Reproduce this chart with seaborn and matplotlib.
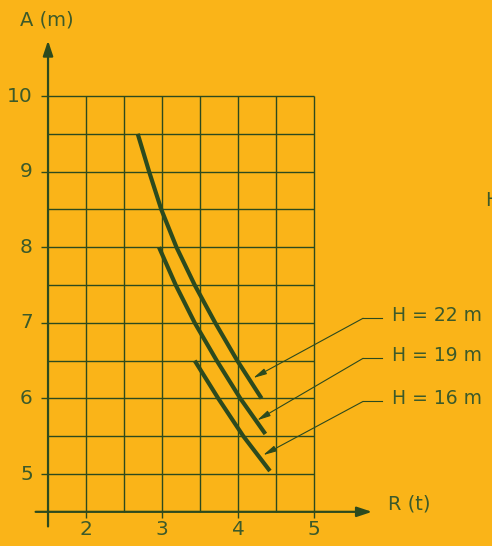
import numpy as np
import pandas as pd
import seaborn as sns
import matplotlib.pyplot as plt

# curves: R (t) vs A (m)
h22_r = [2.68, 2.83, 2.99, 3.19, 3.43, 3.70, 3.99, 4.31]
h22_a = [9.5, 9.0, 8.5, 8.0, 7.5, 7.0, 6.5, 6.0]
h19_r = [2.96, 3.18, 3.43, 3.72, 4.03, 4.36]
h19_a = [8.0, 7.5, 7.0, 6.5, 6.0, 5.53]
h16_r = [3.43, 3.74, 4.07, 4.42]
h16_a = [6.5, 6.0, 5.5, 5.04]

labels = ['H = 22 m', 'H = 19 m', 'H = 16 m']
label_a = [7.10, 6.57, 6.00]
tip_r = [4.20, 4.25, 4.33]
tip_a = [6.27, 5.71, 5.25]

x_ticks = [2, 3, 4, 5]
y_ticks = [5, 6, 7, 8, 9, 10]
x_grid = [2, 2.5, 3, 3.5, 4, 4.5, 5]
y_grid = [5, 5.5, 6, 6.5, 7, 7.5, 8, 8.5, 9, 9.5, 10]

bg = '#FAB418'
ink = '#2C4A1E'
txt = '#3C5A2A'

plt.rcParams['font.family'] = ['DejaVu Sans']

fig = plt.figure(figsize=(4.92, 5.46), dpi=100)
fig.patch.set_facecolor(bg)
ax = fig.add_axes([0, 0, 1, 1])
ax.set_facecolor(bg)
ax.set_xlim(0.868, 7.342)
ax.set_ylim(4.048, 11.27)
ax.axis('off')

# grid
ax.hlines(y_grid, 1.5, 5, color=ink, lw=1.0)
ax.vlines(x_grid, 4.5, 10, color=ink, lw=1.0)
ax.hlines(y_ticks, 1.41, 1.5, color=ink, lw=1.0)
ax.vlines(x_ticks, 4.42, 4.5, color=ink, lw=1.0)

# axes with arrows
ax.annotate('', xy=(1.5, 10.77), xytext=(1.5, 4.27),
            arrowprops=dict(arrowstyle='-|>,head_length=0.9,head_width=0.3',
                            color=ink, lw=1.6))
ax.annotate('', xy=(5.80, 4.5), xytext=(1.30, 4.5),
            arrowprops=dict(arrowstyle='-|>,head_length=0.9,head_width=0.3',
                            color=ink, lw=1.6))

# curves
for r, a in [(h22_r, h22_a), (h19_r, h19_a), (h16_r, h16_a)]:
    df = pd.DataFrame({'R': r, 'A': a})
    sns.lineplot(data=df, x='R', y='A', sort=False, color=ink, lw=3.0,
                 ax=ax, solid_capstyle='butt')

# labels with leader arrows
for lab, ya, tr, ta in zip(labels, label_a, tip_r, tip_a):
    yl = ya - 0.04
    ax.plot([5.645, 5.895], [yl, yl], color=ink, lw=0.8)
    ax.annotate('', xy=(tr, ta), xytext=(5.645, yl),
                arrowprops=dict(arrowstyle='-|>,head_length=0.8,head_width=0.18',
                                color=ink, lw=0.8, shrinkA=0, shrinkB=0))
    ax.text(6.02, ya, lab, color=txt, fontsize=13.5, va='center', ha='left')

# tick labels
for t in x_ticks:
    ax.text(t, 4.26, str(t), color=txt, fontsize=14.5, ha='center', va='center')
for t in y_ticks:
    ax.text(1.30, t, str(t), color=txt, fontsize=14.5, ha='right', va='center')

ax.text(1.13, 11.0, 'A (m)', color=txt, fontsize=14, ha='left', va='center')
ax.text(5.97, 4.61, 'R (t)', color=txt, fontsize=14, ha='left', va='center')
ax.text(7.25, 8.62, 'H', color=txt, fontsize=13.5, ha='left', va='center')

fig.savefig('out.png', dpi=100, facecolor=bg)
